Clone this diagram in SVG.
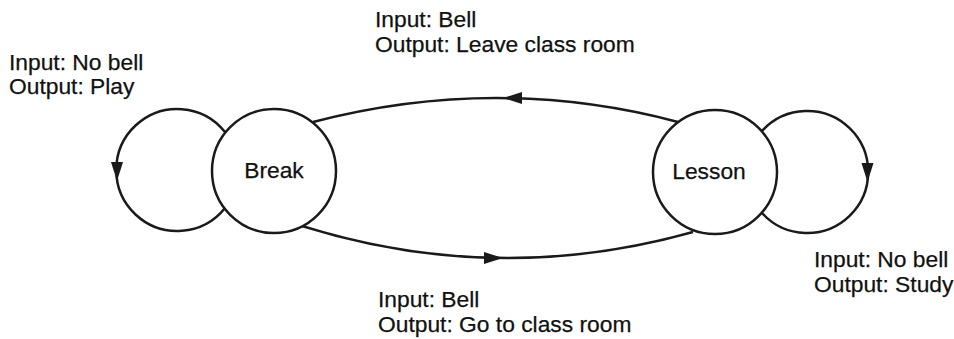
<svg xmlns="http://www.w3.org/2000/svg" xmlns:xlink="http://www.w3.org/1999/xlink" width="954" height="339" viewBox="0 0 954 339">
<style>
.edge{fill:none;stroke:#1a1a1a;stroke-width:2.5}
.state{fill:#fff;stroke:#1a1a1a;stroke-width:2.5}
.head{fill:#1a1a1a;stroke:none}
text{font-family:"Liberation Sans",Arial,sans-serif;font-size:22.8px;fill:#111;stroke:#111;stroke-width:0.25}
</style>
<defs>
<polygon id="ah" class="head" points="0,0 -19,-6 -19,6"/>
</defs>
<rect width="954" height="339" fill="#fff"/>
<g id="connectors">
<path class="edge" d="M225,132 A61,61 0 1 0 225,208"/>
<use xlink:href="#ah" transform="translate(117,181) rotate(90)"/>
<path class="edge" d="M762,131 A61,61 0 1 1 762,213"/>
<use xlink:href="#ah" transform="translate(867.5,182) rotate(90)"/>
<path class="edge" d="M313,122 Q497,74 678,122"/>
<use xlink:href="#ah" transform="translate(503,98) rotate(180)"/>
<path class="edge" d="M302,226 Q497,287 693,232"/>
<use xlink:href="#ah" transform="translate(503,258)"/>
</g>
<g id="break">
<circle class="state" cx="274" cy="171" r="62"/>
<text x="274" y="178" text-anchor="middle">Break</text>
</g>
<g id="lesson">
<circle class="state" cx="715" cy="172" r="62"/>
<text x="709" y="179" text-anchor="middle">Lesson</text>
</g>
<g id="label-top">
<text x="375" y="27">Input: Bell</text>
<text x="375" y="52">Output: Leave class room</text>
</g>
<g id="label-left">
<text x="9" y="70">Input: No bell</text>
<text x="9" y="94">Output: Play</text>
</g>
<g id="label-right">
<text x="814" y="267">Input: No bell</text>
<text x="814" y="292">Output: Study</text>
</g>
<g id="label-bottom">
<text x="378" y="307">Input: Bell</text>
<text x="378" y="332">Output: Go to class room</text>
</g>
</svg>
